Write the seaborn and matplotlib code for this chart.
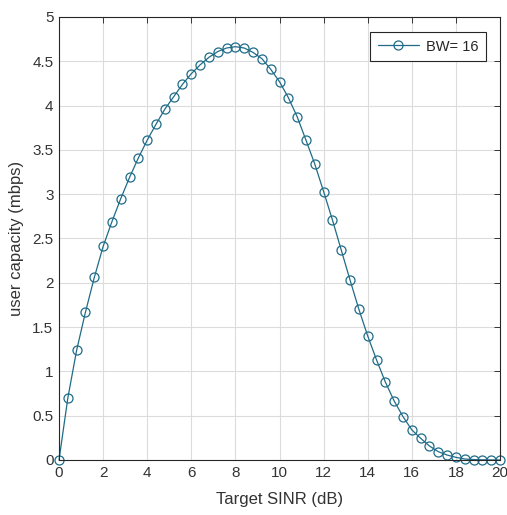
import numpy as np
import pandas as pd
import matplotlib
matplotlib.use("Agg")
import matplotlib.pyplot as plt
import seaborn as sns

# Target SINR (dB), 0:0.4:20
sinr_db = [0.0, 0.4, 0.8, 1.2, 1.6, 2.0, 2.4, 2.8, 3.2, 3.6,
           4.0, 4.4, 4.8, 5.2, 5.6, 6.0, 6.4, 6.8, 7.2, 7.6,
           8.0, 8.4, 8.8, 9.2, 9.6, 10.0, 10.4, 10.8, 11.2, 11.6,
           12.0, 12.4, 12.8, 13.2, 13.6, 14.0, 14.4, 14.8, 15.2, 15.6,
           16.0, 16.4, 16.8, 17.2, 17.6, 18.0, 18.4, 18.8, 19.2, 19.6,
           20.0]
# user capacity (mbps) for BW = 16
capacity = [0.0, 0.70, 1.24, 1.67, 2.06, 2.41, 2.69, 2.95, 3.19, 3.41,
            3.61, 3.79, 3.96, 4.10, 4.24, 4.36, 4.46, 4.545, 4.61, 4.65,
            4.665, 4.65, 4.60, 4.53, 4.41, 4.27, 4.09, 3.875, 3.61, 3.34,
            3.03, 2.71, 2.37, 2.03, 1.70, 1.40, 1.13, 0.88, 0.666, 0.49,
            0.34, 0.245, 0.158, 0.094, 0.056, 0.03, 0.011, 0.005, 0.002, 0.001,
            0.0]
series_label = "BW= 16"

x_ticks = np.arange(0, 21, 2)
y_ticks = np.arange(0, 5.01, 0.5)
y_tick_labels = ["0", "0.5", "1", "1.5", "2", "2.5", "3", "3.5", "4", "4.5", "5"]

df = pd.DataFrame({"sinr": sinr_db, "capacity": capacity, "series": series_label})

sns.set_style("white")
plt.rcParams["font.family"] = ["Liberation Sans", "DejaVu Sans"]

line_color = "#1f6c88"

fig = plt.figure(figsize=(5.07, 5.15), dpi=100)
ax = fig.add_axes([0.1164, 0.1068, 0.8698, 0.8602])

sns.lineplot(data=df, x="sinr", y="capacity", hue="series", palette=[line_color],
             marker="o", markersize=6.5, markerfacecolor="none",
             markeredgecolor=line_color, markeredgewidth=0.9,
             linewidth=0.9, clip_on=False, ax=ax)

ax.set_xlim(0, 20)
ax.set_ylim(0, 5)
ax.set_xticks(x_ticks)
ax.set_yticks(y_ticks)
ax.set_yticklabels(y_tick_labels)
ax.grid(True, color="#dcdcdc", linewidth=0.8)
ax.set_axisbelow(True)
for s in ax.spines.values():
    s.set_visible(True)
    s.set_color("#262626")
    s.set_linewidth(0.8)
ax.tick_params(direction="in", length=4, width=0.7, top=True, right=True,
               labelsize=11, colors="#333333", pad=4)
ax.set_xlabel("Target SINR (dB)", fontsize=12, color="#333333", labelpad=9)
ax.set_ylabel("user capacity (mbps)", fontsize=12, color="#333333", labelpad=6)

handles, labels = ax.get_legend_handles_labels()
leg = ax.legend(handles, labels, loc="upper right", fontsize=10.5, frameon=True,
                fancybox=False, edgecolor="#262626", framealpha=1,
                borderpad=0.5, handlelength=2.8, handletextpad=0.5,
                bbox_to_anchor=(0.984, 0.982))
leg.get_frame().set_linewidth(0.8)

fig.savefig("out.png", dpi=100)
